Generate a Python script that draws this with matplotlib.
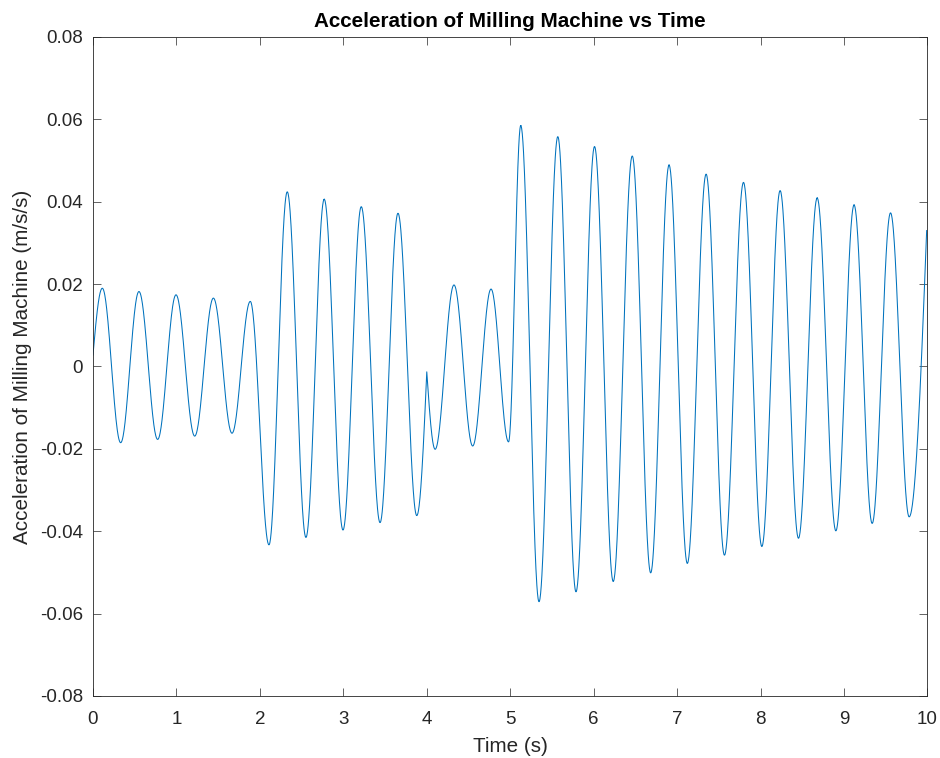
import matplotlib.pyplot as plt
import numpy as np

plt.rcParams['font.family'] = ['Liberation Sans', 'DejaVu Sans']
plt.rcParams['axes.unicode_minus'] = False

# turning points of the trace (time s, acceleration m/s/s)
t_pts = [0.0, 0.112, 0.332, 0.551, 0.775, 0.995, 1.219, 1.443, 1.666, 1.885,
         2.109, 2.328, 2.552, 2.771, 2.996, 3.215, 3.44, 3.655, 3.88, 4.0,
         4.10, 4.326, 4.55, 4.77, 4.98, 5.126, 5.345, 5.57, 5.788, 6.01,
         6.234, 6.462, 6.683, 6.903, 7.122, 7.347, 7.567, 7.795, 8.015, 8.234,
         8.454, 8.678, 8.902, 9.12, 9.337, 9.557, 9.78, 9.99]
a_pts = [0.0028, 0.0190, -0.0185, 0.0182, -0.0177, 0.0174, -0.0169, 0.0166, -0.0162, 0.0158,
         -0.0433, 0.0424, -0.0415, 0.0406, -0.0397, 0.0388, -0.0379, 0.0372, -0.0362, -0.0013,
         -0.0201, 0.0198, -0.0193, 0.0188, -0.0183, 0.0585, -0.0571, 0.0558, -0.0547, 0.0534,
         -0.0522, 0.0511, -0.0501, 0.0489, -0.0478, 0.0467, -0.0458, 0.0447, -0.0437, 0.0427,
         -0.0417, 0.0409, -0.0399, 0.0392, -0.0381, 0.0373, -0.0365, 0.0330]
# points where the trace has a sharp corner instead of a rounded turn
corners = [0.0, 4.0, 9.99]

yticks = [-0.08, -0.06, -0.04, -0.02, 0, 0.02, 0.04, 0.06, 0.08]
ylabels = ['-0.08', '-0.06', '-0.04', '-0.02', '0', '0.02', '0.04', '0.06', '0.08']

# smooth trace between turning points
tt, aa = [], []
for i in range(len(t_pts) - 1):
    t0, t1 = t_pts[i], t_pts[i + 1]
    a0, a1 = a_pts[i], a_pts[i + 1]
    u = np.linspace(0, 1, 60)
    c0, c1 = t0 in corners, t1 in corners
    if c0 and not c1:
        s = np.sin(u * np.pi / 2)
    elif c1 and not c0:
        s = 1 - np.cos(u * np.pi / 2)
    else:
        s = (1 - np.cos(u * np.pi)) / 2
    tt.append(t0 + (t1 - t0) * u)
    aa.append(a0 + (a1 - a0) * s)
tt = np.concatenate(tt)
aa = np.concatenate(aa)

fig = plt.figure(figsize=(9.4, 7.58), dpi=100)
ax = fig.add_axes([0.0989, 0.0818, 0.8878, 0.8694])
ax.plot(tt, aa, color='#0072BD', linewidth=0.75)

ax.set_xlim(0, 10)
ax.set_ylim(-0.08, 0.08)
ax.set_xticks(range(11))
ax.set_yticks(yticks)
ax.set_yticklabels(ylabels)
ax.tick_params(direction='in', length=6, width=0.5, top=True, right=True,
               labelsize=13.5, colors='#262626')
ax.tick_params(axis='x', pad=10.5)
ax.tick_params(axis='y', pad=7)
for sp in ax.spines.values():
    sp.set_linewidth(0.6)
    sp.set_color('#262626')

ax.set_title('Acceleration of Milling Machine vs Time', fontsize=14.85, fontweight='bold', pad=7.5)
ax.set_xlabel('Time (s)', fontsize=14.85, color='#262626', labelpad=7)
ax.set_ylabel('Acceleration of Milling Machine (m/s/s)', fontsize=14.85, color='#262626', labelpad=5.5)

fig.savefig('out.png')
